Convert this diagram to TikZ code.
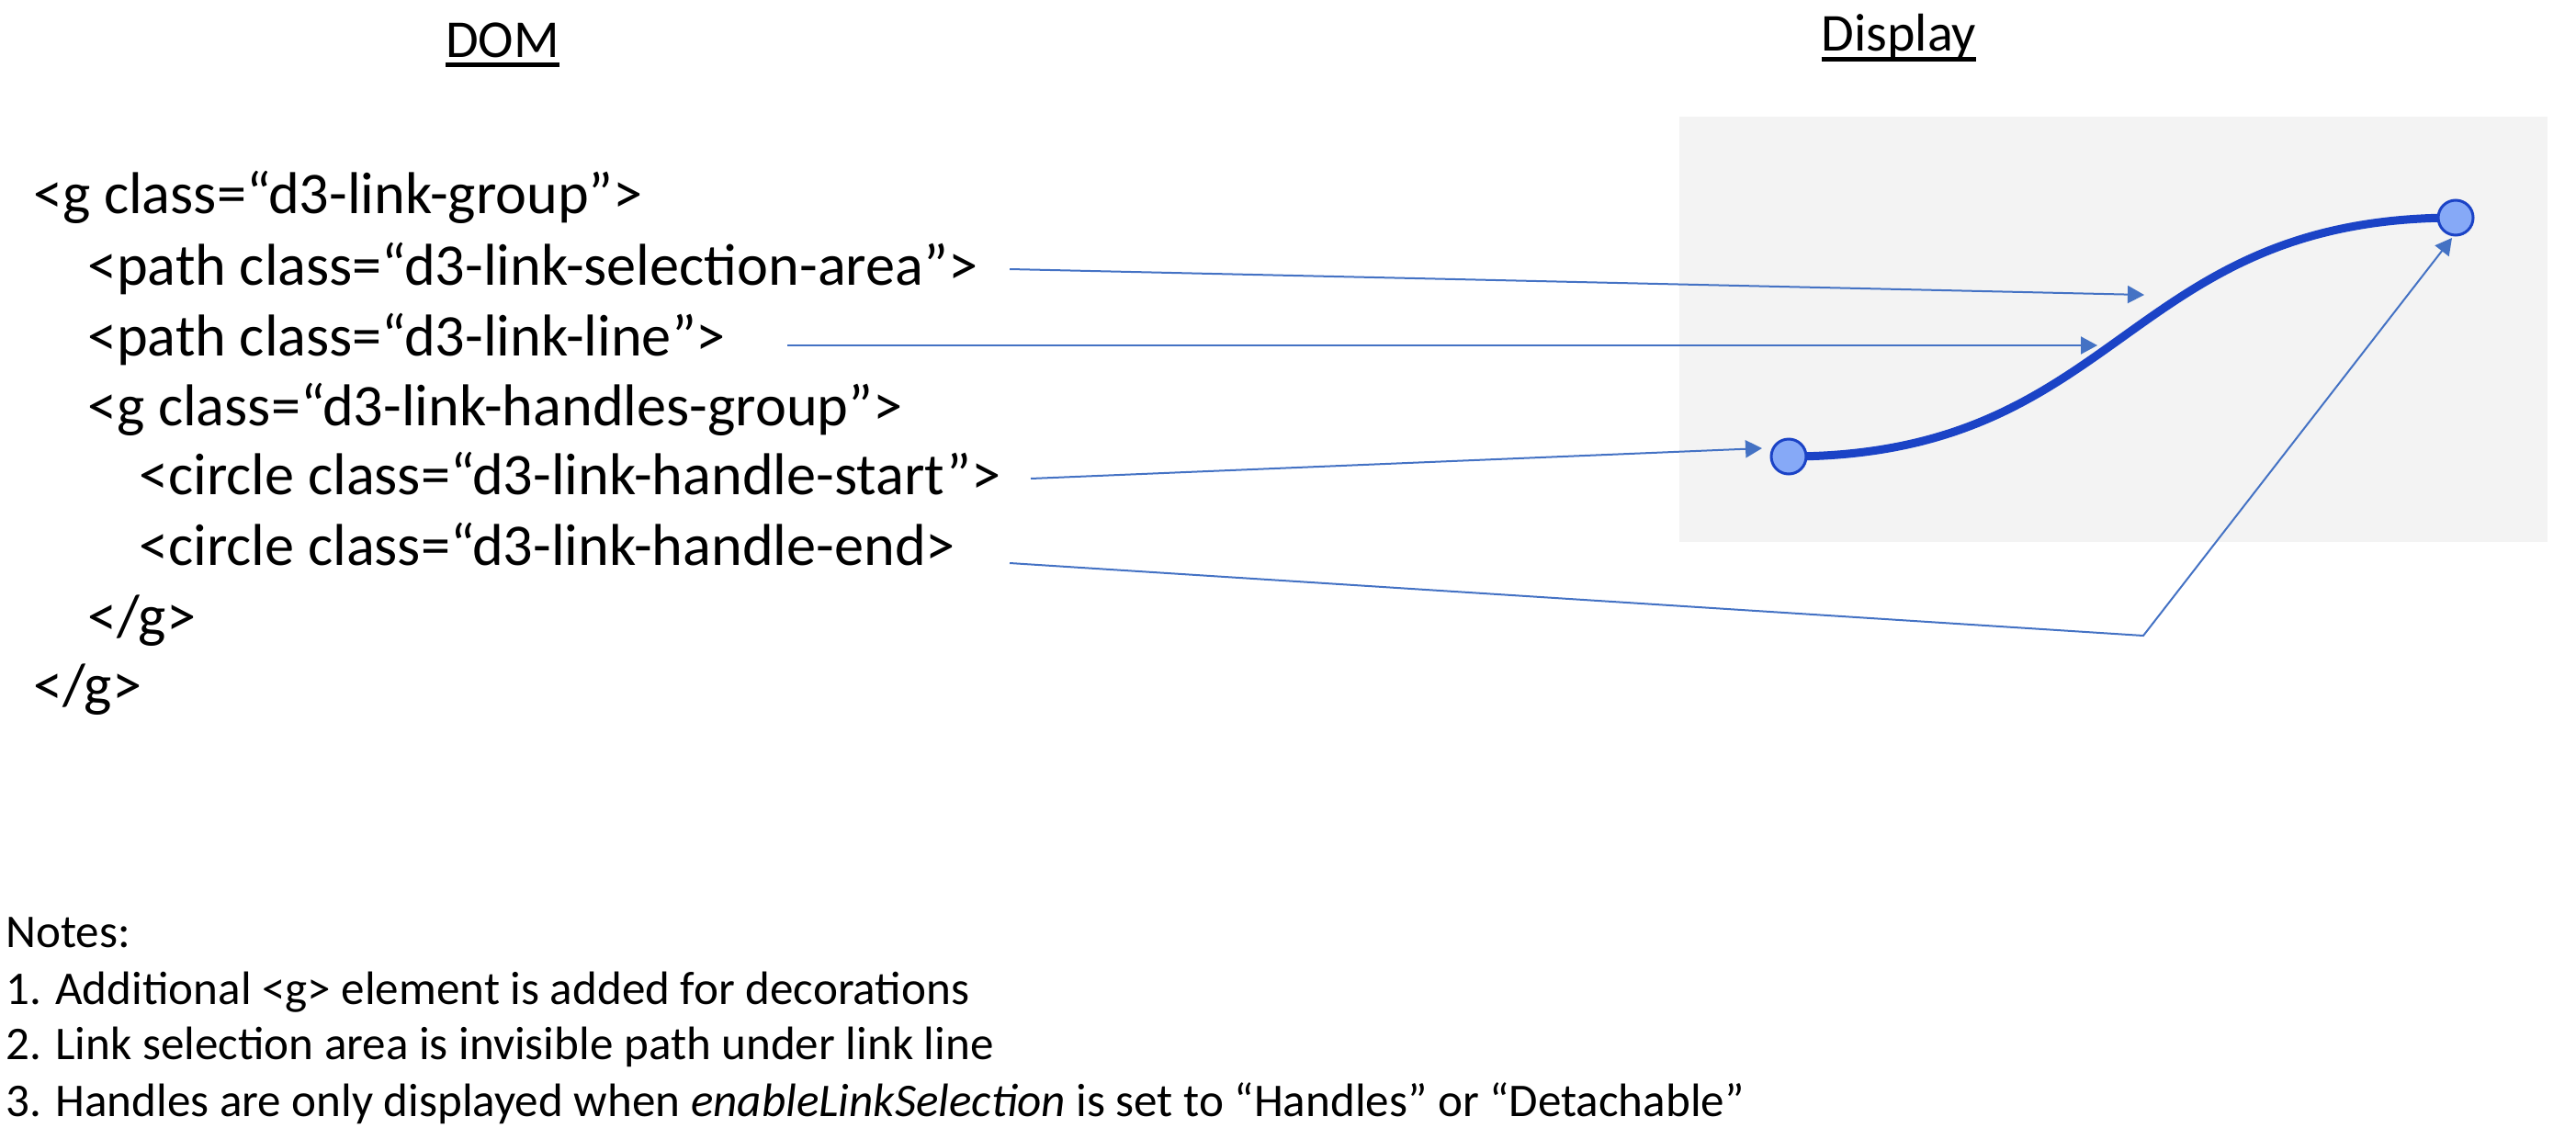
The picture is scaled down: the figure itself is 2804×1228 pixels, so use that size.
\documentclass[tikz,border=0pt]{standalone}
\usepackage{fontspec}
\setmainfont{Carlito}
\usetikzlibrary{arrows.meta,calc}
\definecolor{arrowblue}{HTML}{4472C4}
\definecolor{linkblue}{HTML}{1B43C6}
\definecolor{handlefill}{HTML}{86A9F7}
\definecolor{panelgrey}{HTML}{F3F3F3}
\tikzset{
  codetext/.style={anchor=base west,inner sep=0pt,font=\fontsize{64.3}{76}\selectfont},
  notetext/.style={anchor=base west,inner sep=0pt,font=\fontsize{51.1}{60}\selectfont},
  headtext/.style={anchor=base,inner sep=0pt,font=\fontsize{58}{70}\selectfont},
  headrule/.style={line width=5pt},
  ptr/.style={draw=arrowblue,line width=2pt,-{Triangle[length=18pt,width=19pt]}},
  handle/.style={circle,draw=linkblue,fill=handlefill,line width=3pt,minimum size=38pt,inner sep=0pt},
}
\begin{document}
\begin{tikzpicture}[x=1pt,y=-1pt]
\useasboundingbox (0,0) rectangle (2804,1228);
% panel
\fill[panelgrey] (1828,127) rectangle (2773,590);
% headings
\node[headtext] (dom) at (547,63) {DOM};
\node[headtext] (disp) at (2067,56) {Display};
\draw[headrule] ([yshift=-8pt]dom.base west) -- ([yshift=-8pt]dom.base east);
\draw[headrule] ([yshift=-9pt]disp.base west) -- ([yshift=-9pt]disp.base east);
% code lines
\node[codetext] (l1) at (36,232) {<g class=“d3-link-group”>};
\node[codetext] (l2) at (95,310) {<path class=“d3-link-selection-area”>};
\node[codetext] (l3) at (95,387) {<path class=“d3-link-line”>};
\node[codetext] (l4) at (95,463) {<g class=“d3-link-handles-group”>};
\node[codetext] (l5) at (151,538) {<circle class=“d3-link-handle-start”>};
\node[codetext] (l6) at (151,615) {<circle class=“d3-link-handle-end>};
\node[codetext] (l7) at (95,692) {</g>};
\node[codetext] (l8) at (36,767) {</g>};
% notes
\node[notetext] (n0) at (6,1031) {Notes:};
\node[notetext] (n1) at (6,1093) {1. Additional <g> element is added for decorations};
\node[notetext] (n2) at (6,1153) {2. Link selection area is invisible path under link line};
\node[notetext] (n3) at (6,1215) {3. Handles are only displayed when \textit{enableLinkSelection} is set to “Handles” or “Detachable”};
% link curve and handles
\coordinate (hsc) at (1947,497);
\coordinate (hec) at (2673,237);
\draw[linkblue,line width=9pt] (hsc) .. controls (2310,497) and (2311,237) .. (hec);
\node[handle] (hs) at (hsc) {};
\node[handle] (he) at (hec) {};
% arrow anchor points
\coordinate (s1) at (1099,293);
\coordinate (t1) at (2334,321);
\coordinate (s2) at (857,376);
\coordinate (t2) at (2283,376);
\coordinate (s3) at (1122,521);
\coordinate (t3) at (1918,488);
\coordinate (s4) at (1099,613);
\coordinate (k4) at (2333,692);
\coordinate (t4) at (2669,259);
\draw[ptr] (s1) -- (t1);
\draw[ptr] (s2) -- (t2);
\draw[ptr] (s3) -- (t3);
\draw[ptr] (s4) -- (k4) -- (t4);
\end{tikzpicture}
\end{document}
